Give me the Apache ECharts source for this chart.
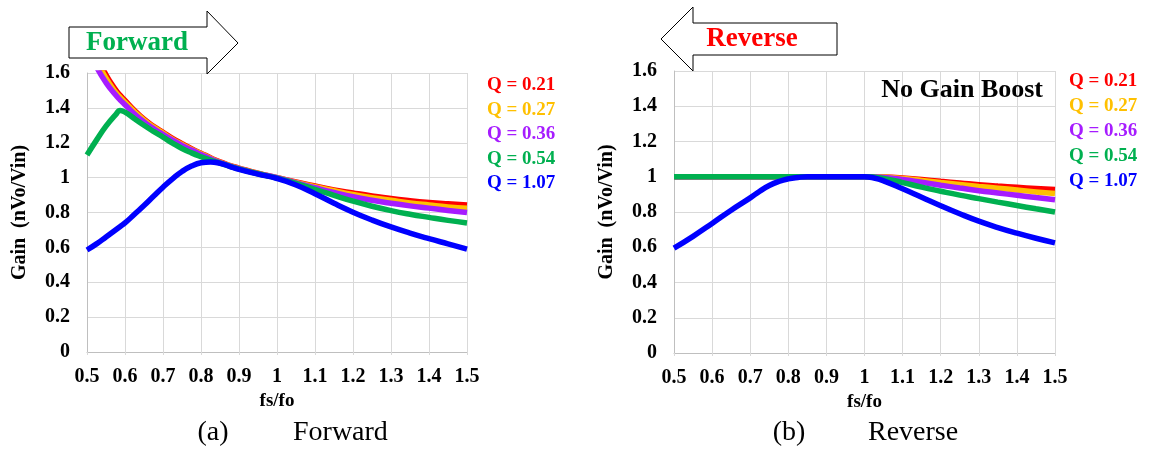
<!DOCTYPE html>
<html>
<head>
<meta charset="utf-8">
<script src="https://cdn.jsdelivr.net/npm/echarts@6/dist/echarts.min.js"></script>
<style>
html,body{margin:0;padding:0;background:#fff;}
#chart{width:1153px;height:453px;}
</style>
</head>
<body>
<div id="chart"></div>
<script>
// ---------- data ----------
const qLabels = ['Q = 0.21', 'Q = 0.27', 'Q = 0.36', 'Q = 0.54', 'Q = 1.07'];
const qColors = ['#FF0000', '#FFC000', '#A61CFF', '#00B050', '#0000FF'];
const axisTicksX = [0.5, 0.6, 0.7, 0.8, 0.9, 1, 1.1, 1.2, 1.3, 1.4, 1.5];
const axisTicksY = [0, 0.2, 0.4, 0.6, 0.8, 1, 1.2, 1.4, 1.6];

// Forward (a)
const fwdX    = [0.5, 0.525, 0.55, 0.575, 0.5875, 0.6, 0.625, 0.65, 0.675, 0.7, 0.725, 0.75, 0.775, 0.8, 0.825, 0.85, 0.875, 0.9, 0.95, 1.0, 1.05, 1.1, 1.15, 1.2, 1.25, 1.3, 1.35, 1.4, 1.45, 1.5];
const fwdQ021 = [1.84, 1.70, 1.59, 1.505, 1.472, 1.443, 1.385, 1.335, 1.295, 1.26, 1.225, 1.195, 1.166, 1.14, 1.114, 1.09, 1.071, 1.055, 1.025, 1.0, 0.975, 0.952, 0.93, 0.912, 0.895, 0.88, 0.868, 0.858, 0.85, 0.843];
const fwdQ027 = [1.80, 1.675, 1.57, 1.49, 1.46, 1.432, 1.378, 1.33, 1.29, 1.255, 1.22, 1.19, 1.162, 1.137, 1.111, 1.088, 1.069, 1.053, 1.024, 1.0, 0.973, 0.948, 0.925, 0.903, 0.885, 0.87, 0.855, 0.843, 0.832, 0.825];
const fwdQ036 = [1.75, 1.635, 1.545, 1.475, 1.445, 1.418, 1.365, 1.32, 1.282, 1.248, 1.215, 1.185, 1.158, 1.133, 1.108, 1.086, 1.068, 1.052, 1.023, 1.0, 0.97, 0.942, 0.915, 0.89, 0.87, 0.853, 0.838, 0.825, 0.812, 0.80];
const fwdQ054 = [1.13, 1.215, 1.295, 1.36, 1.385, 1.375, 1.338, 1.30, 1.265, 1.232, 1.198, 1.167, 1.142, 1.12, 1.10, 1.083, 1.066, 1.05, 1.022, 0.997, 0.967, 0.933, 0.898, 0.865, 0.836, 0.811, 0.79, 0.772, 0.755, 0.74];
const fwdQ107 = [0.585, 0.62, 0.66, 0.70, 0.72, 0.74, 0.79, 0.84, 0.893, 0.945, 0.993, 1.035, 1.066, 1.085, 1.09, 1.082, 1.065, 1.047, 1.02, 0.995, 0.958, 0.908, 0.853, 0.802, 0.757, 0.717, 0.682, 0.65, 0.62, 0.59];

// Reverse (b)
const revX    = [0.5, 0.55, 0.6, 0.65, 0.7, 0.725, 0.75, 0.775, 0.8, 0.825, 0.85, 0.9, 0.95, 1.0, 1.025, 1.05, 1.1, 1.15, 1.2, 1.25, 1.3, 1.35, 1.4, 1.45, 1.5];
const revQ021 = [1, 1, 1, 1, 1, 1, 1, 1, 1, 1, 1, 1, 1, 1, 1.0, 0.999, 0.993, 0.984, 0.974, 0.965, 0.955, 0.947, 0.94, 0.933, 0.927];
const revQ027 = [1, 1, 1, 1, 1, 1, 1, 1, 1, 1, 1, 1, 1, 1, 1.0, 0.998, 0.99, 0.979, 0.967, 0.956, 0.945, 0.935, 0.925, 0.914, 0.905];
const revQ036 = [1, 1, 1, 1, 1, 1, 1, 1, 1, 1, 1, 1, 1, 1, 0.999, 0.996, 0.985, 0.969, 0.952, 0.936, 0.921, 0.908, 0.895, 0.882, 0.87];
const revQ054 = [1, 1, 1, 1, 1, 1, 1, 1, 1, 1, 1, 1, 1, 1, 0.998, 0.991, 0.967, 0.941, 0.918, 0.896, 0.876, 0.856, 0.837, 0.818, 0.80];
const revQ107 = [0.595, 0.662, 0.735, 0.81, 0.88, 0.918, 0.95, 0.973, 0.988, 0.996, 1.0, 1, 1, 1, 0.993, 0.977, 0.932, 0.884, 0.836, 0.79, 0.748, 0.712, 0.68, 0.651, 0.625];

const fwdSeries = [fwdQ021, fwdQ027, fwdQ036, fwdQ054, fwdQ107];
const revSeries = [revQ021, revQ027, revQ036, revQ054, revQ107];

// ---------- build ----------
const SERIF = "'Liberation Serif','Times New Roman',serif";
const fmt = v => String(+(+v).toFixed(1));

function xAxis(gi) {
  return {
    type: 'value', gridIndex: gi, min: axisTicksX[0], max: axisTicksX[axisTicksX.length - 1], interval: 0.1,
    name: 'fs/fo', nameLocation: 'middle', nameGap: 40,
    nameTextStyle: { fontFamily: SERIF, fontWeight: 'bold', fontSize: 19, color: '#000' },
    axisLine: { lineStyle: { color: '#bfbfbf', width: 1 } },
    axisTick: { show: true, length: 3, lineStyle: { color: '#d9d9d9' } },
    axisLabel: { formatter: fmt, fontFamily: SERIF, fontWeight: 'bold', fontSize: 20, color: '#000', margin: 15 },
    splitLine: { show: true, lineStyle: { color: '#d9d9d9', width: 1 } }
  };
}
function yAxis(gi) {
  return {
    type: 'value', gridIndex: gi, min: axisTicksY[0], max: axisTicksY[axisTicksY.length - 1], interval: 0.2,
    name: 'Gain  (nVo/Vin)', nameLocation: 'middle', nameGap: 57, nameRotate: 90,
    nameTextStyle: { fontFamily: SERIF, fontWeight: 'bold', fontSize: 20, color: '#000' },
    axisLine: { show: true, lineStyle: { color: '#bfbfbf', width: 1 } },
    axisTick: { show: false },
    axisLabel: { formatter: fmt, fontFamily: SERIF, fontWeight: 'bold', fontSize: 20, color: '#000', margin: 17 },
    splitLine: { show: true, lineStyle: { color: '#d9d9d9', width: 1 } }
  };
}

const series = [];
fwdSeries.forEach((arr, i) => {
  series.push({
    name: qLabels[i] + ' (a)', type: 'line', xAxisIndex: 0, yAxisIndex: 0,
    data: fwdX.map((x, k) => [x, arr[k]]), showSymbol: false, smooth: 0.5, clip: true,
    lineStyle: { color: qColors[i], width: 5.5 }, itemStyle: { color: qColors[i] }
  });
});
revSeries.forEach((arr, i) => {
  series.push({
    name: qLabels[i] + ' (b)', type: 'line', xAxisIndex: 1, yAxisIndex: 1,
    data: revX.map((x, k) => [x, arr[k]]), showSymbol: false, smooth: 0.5, clip: true,
    lineStyle: { color: qColors[i], width: 5.5 }, itemStyle: { color: qColors[i] }
  });
});

function txt(x, y, text, opts) {
  return {
    type: 'text', x: x, y: y, z: 120,
    style: Object.assign({ text: text, fill: '#000', fontFamily: SERIF, fontSize: 20, fontWeight: 'bold', align: 'left', verticalAlign: 'middle' }, opts || {})
  };
}

const graphics = [];
// arrows
graphics.push({ type: 'polygon', z: 100, shape: { points: [[69,27],[207,27],[207,11],[238,43],[207,74],[207,58],[69,58]] }, style: { fill: '#fff', stroke: '#000', lineWidth: 1 } });
graphics.push(txt(137, 43, 'Forward', { fill: '#00B050', fontSize: 27, align: 'center' }));
graphics.push({ type: 'polygon', z: 100, shape: { points: [[661,39],[693,7],[693,23],[837,23],[837,55],[693,55],[693,71]] }, style: { fill: '#fff', stroke: '#000', lineWidth: 1 } });
graphics.push(txt(752, 39, 'Reverse', { fill: '#FF0000', fontSize: 27, align: 'center' }));
graphics.push(txt(1043, 90, 'No Gain Boost', { fontSize: 26, align: 'right' }));
// legends
qLabels.forEach((lab, i) => {
  graphics.push(txt(487, 85 + i * 24.6, lab, { fill: qColors[i], fontSize: 19 }));
  graphics.push(txt(1069, 81 + i * 25, lab, { fill: qColors[i], fontSize: 19 }));
});
// captions
graphics.push(txt(213, 433, '(a)', { fontWeight: 'normal', fontSize: 28, align: 'center' }));
graphics.push(txt(293, 433, 'Forward', { fontWeight: 'normal', fontSize: 28 }));
graphics.push(txt(789, 433, '(b)', { fontWeight: 'normal', fontSize: 28, align: 'center' }));
graphics.push(txt(868, 433, 'Reverse', { fontWeight: 'normal', fontSize: 28 }));

const chart = echarts.init(document.getElementById('chart'), null, { renderer: 'canvas' });
chart.setOption({
  animation: false,
  backgroundColor: '#fff',
  grid: [
    { left: 87, width: 380, top: 73, height: 279 },
    { left: 674, width: 381, top: 71, height: 282 }
  ],
  xAxis: [xAxis(0), xAxis(1)],
  yAxis: [yAxis(0), yAxis(1)],
  series: series,
  graphic: graphics
});
</script>
</body>
</html>
